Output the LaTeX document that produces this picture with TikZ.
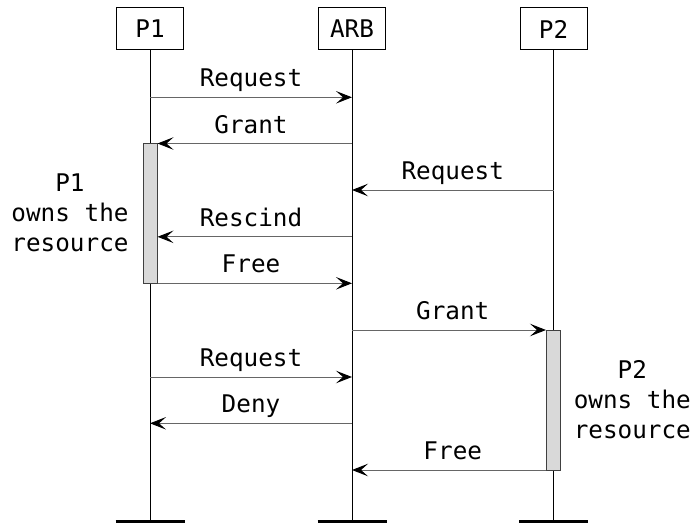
\documentclass[tikz,border=0pt]{standalone}
\usepackage{fontspec}
\setmainfont{DejaVu Sans Mono}
\usetikzlibrary{arrows.meta}
\begin{document}
\begin{tikzpicture}[x=1pt,y=-1pt,
  every node/.style={font=\fontsize{24.3}{30}\selectfont},
  actor/.style={draw, line width=1pt, minimum width=67pt, minimum height=42pt, inner sep=0pt},
  lifeline/.style={line width=1pt},
  baseline bar/.style={line width=3pt},
  msg/.style={line width=1pt, draw=black!60, -{Stealth[length=16pt,width=12.5pt,inset=7pt,black]}},
  msglabel/.style={anchor=base, inner sep=0pt, yshift=10.5pt},
  activebar/.style={draw=black!75, fill=black!15, line width=1pt, minimum width=14pt, inner sep=0pt},
  note/.style={align=center, inner sep=0pt}]
\useasboundingbox (0,0) rectangle (692,524);

% participants
\node[actor] (p1)  at (150,29)   {P1};
\node[actor] (arb) at (352,29)   {ARB};
\node[actor] (p2)  at (553.5,29) {P2};

% lifeline ends
\coordinate (e1) at (150,521.5);
\coordinate (e2) at (352,521.5);
\coordinate (e3) at (553.5,521.5);

\draw[lifeline] (p1.south)  -- (e1);
\draw[lifeline] (arb.south) -- (e2);
\draw[lifeline] (p2.south)  -- (e3);

\draw[baseline bar] ([xshift=-34.5pt]e1) -- ([xshift=34.5pt]e1);
\draw[baseline bar] ([xshift=-34.5pt]e2) -- ([xshift=34.5pt]e2);
\draw[baseline bar] ([xshift=-34.5pt]e3) -- ([xshift=34.5pt]e3);

% message rows
\coordinate (r1) at (0,97.3);
\coordinate (r2) at (0,143.5);
\coordinate (r3) at (0,190);
\coordinate (r4) at (0,236.8);
\coordinate (r5) at (0,283.3);
\coordinate (r6) at (0,330);
\coordinate (r7) at (0,377);
\coordinate (r8) at (0,423.3);
\coordinate (r9) at (0,470);

% activation bars
\node[activebar, minimum height=139.8pt] (bar1) at (150,213.4) {};
\node[activebar, minimum height=140pt]   (bar2) at (553.5,400) {};

% messages
\draw[msg] (p1 |- r1) -- (arb |- r1);
\path (p1 |- r1) -- node[msglabel] {Request} (arb |- r1);

\draw[msg] (arb |- r2) -- (bar1.east |- r2);
\path (p1 |- r2) -- node[msglabel] {Grant} (arb |- r2);

\draw[msg] (p2 |- r3) -- (arb |- r3);
\path (arb |- r3) -- node[msglabel] {Request} (p2 |- r3);

\draw[msg] (arb |- r4) -- (bar1.east |- r4);
\path (p1 |- r4) -- node[msglabel] {Rescind} (arb |- r4);

\draw[msg] (bar1.east |- r5) -- (arb |- r5);
\path (p1 |- r5) -- node[msglabel] {Free} (arb |- r5);

\draw[msg] (arb |- r6) -- (bar2.west |- r6);
\path (arb |- r6) -- node[msglabel] {Grant} (p2 |- r6);

\draw[msg] (p1 |- r7) -- (arb |- r7);
\path (p1 |- r7) -- node[msglabel] {Request} (arb |- r7);

\draw[msg] (arb |- r8) -- (p1 |- r8);
\path (p1 |- r8) -- node[msglabel] {Deny} (arb |- r8);

\draw[msg] (bar2.west |- r9) -- (arb |- r9);
\path (arb |- r9) -- node[msglabel] {Free} (p2 |- r9);

% ownership notes
\node[note] (n1) at (70,213.3)  {P1\\owns the\\resource};
\node[note] (n2) at (632.3,400) {P2\\owns the\\resource};
\end{tikzpicture}
\end{document}
